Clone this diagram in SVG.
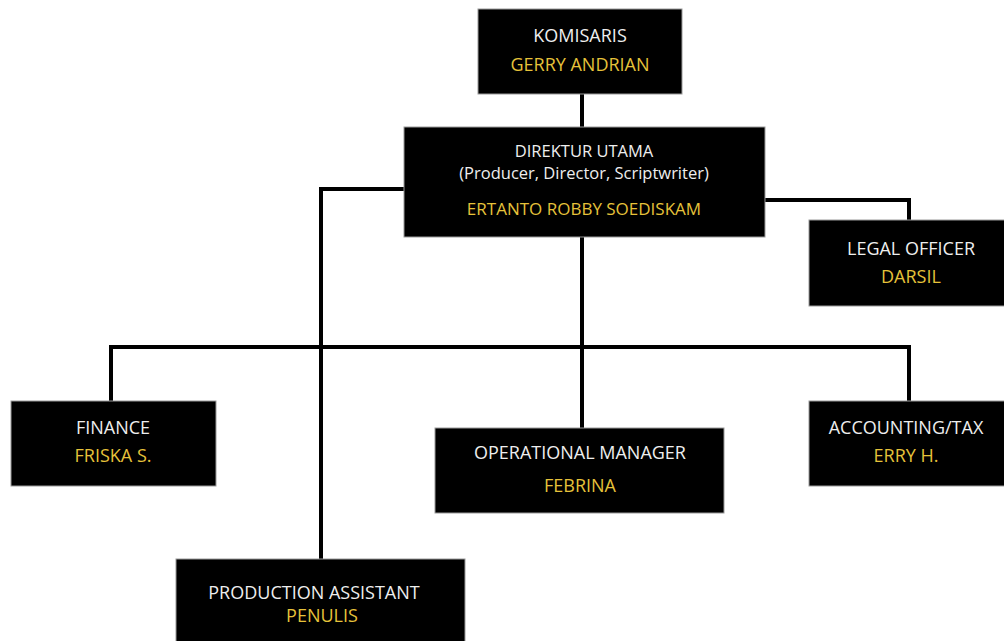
<svg xmlns="http://www.w3.org/2000/svg" width="1004" height="641" viewBox="0 0 1004 641">
<style>
.box{fill:#000;stroke:#9a9a9a;stroke-width:1}
.t{font-family:"Open Sans","Liberation Sans",sans-serif;font-size:18px;text-anchor:middle;fill:#eeeeee}
.s{font-size:16.5px}
.m{font-size:17px}
.n{fill:#e6c23a}
.c{fill:none;stroke:#000;stroke-width:4;stroke-linejoin:miter;stroke-linecap:square}
</style>
<rect width="1004" height="641" fill="#fff"/>
<g id="connectors">
<path class="c" d="M582 94V127"/>
<path class="c" d="M404 189H321V559"/>
<path class="c" d="M765 200H909V220"/>
<path class="c" d="M582 237V428"/>
<path class="c" d="M111 401V347H909V401"/>
</g>
<g id="komisaris">
<rect class="box" x="478" y="9" width="204" height="85"/>
<text class="t" x="580" y="42">KOMISARIS</text>
<text class="t n" x="580" y="71">GERRY ANDRIAN</text>
</g>
<g id="direktur">
<rect class="box" x="404" y="127" width="361" height="110"/>
<text class="t s" x="584" y="157">DIREKTUR UTAMA</text>
<text class="t s" x="584" y="179">(Producer, Director, Scriptwriter)</text>
<text class="t m n" x="584" y="215">ERTANTO ROBBY SOEDISKAM</text>
</g>
<g id="legal">
<rect class="box" x="809" y="220" width="200" height="86"/>
<text class="t" x="911" y="255">LEGAL OFFICER</text>
<text class="t n" x="911" y="283">DARSIL</text>
</g>
<g id="finance">
<rect class="box" x="11" y="401" width="205" height="85"/>
<text class="t" x="113" y="434">FINANCE</text>
<text class="t n" x="113" y="462">FRISKA S.</text>
</g>
<g id="operational">
<rect class="box" x="435" y="428" width="289" height="85"/>
<text class="t" x="580" y="459">OPERATIONAL MANAGER</text>
<text class="t n" x="580" y="492">FEBRINA</text>
</g>
<g id="accounting">
<rect class="box" x="809" y="401" width="200" height="85"/>
<text class="t" x="906" y="434">ACCOUNTING/TAX</text>
<text class="t n" x="906" y="462">ERRY H.</text>
</g>
<g id="production">
<rect class="box" x="176" y="559" width="289" height="90"/>
<text class="t" x="314" y="599">PRODUCTION ASSISTANT</text>
<text class="t n" x="322" y="622">PENULIS</text>
</g>
</svg>
